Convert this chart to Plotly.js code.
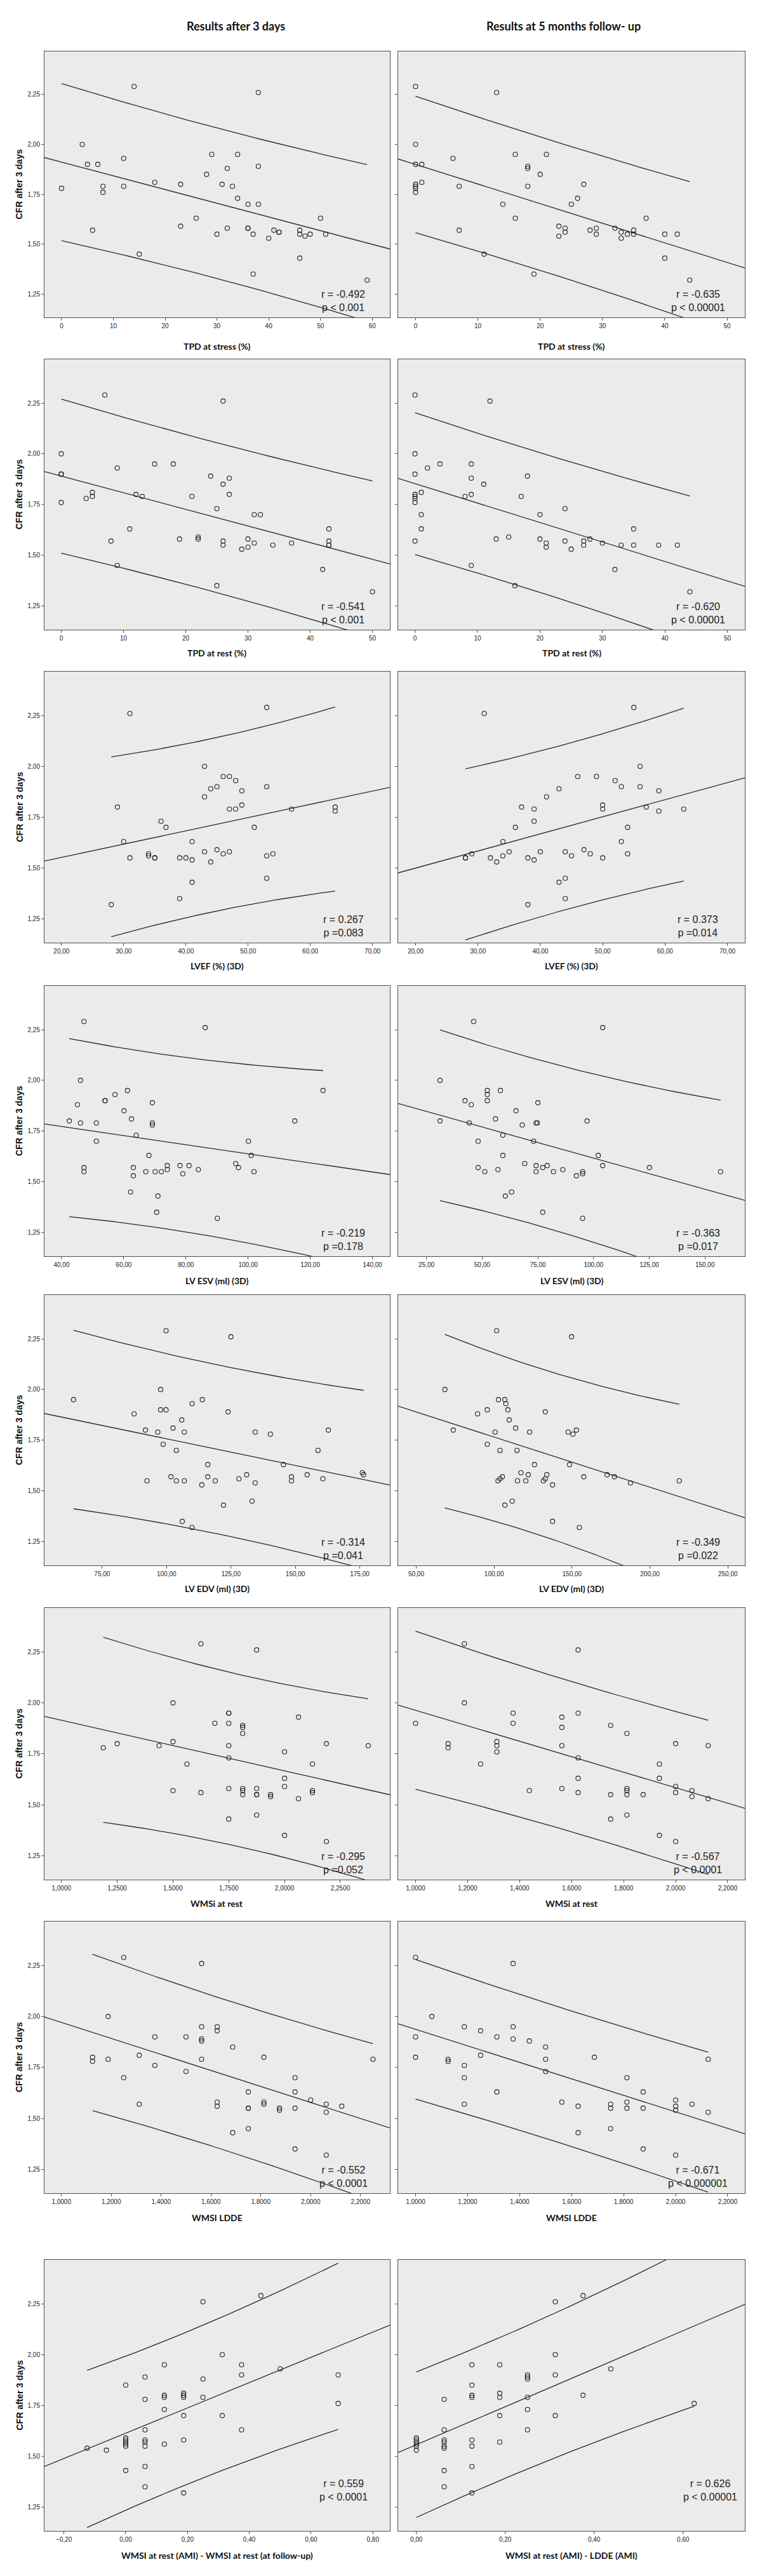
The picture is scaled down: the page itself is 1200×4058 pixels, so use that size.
<!DOCTYPE html>
<html>
<head>
<meta charset="utf-8">
<script src="https://cdn.plot.ly/plotly-3.0.1.min.js"></script>
<style>
  html, body { margin: 0; padding: 0; background: #fff; }
  #chart { width: 1200px; height: 4058px; }
</style>
</head>
<body>
<div id="chart"></div>
<script>
// CFR after 3 days against each parameter
// left column = values after 3 days, right column = values at 5 months follow-up

const tpdStress3d = [14,38,4,29,34,12,5,7,38,32,28,18,23,31,0,8,12,33,8,34,36,38,26,50,6,23,32,36,36,30,37,41,42,42,40,46,46,47,48,51,15,46,37,59];
const tpdStress3dCfr = [2.29,2.26,2.00,1.95,1.95,1.93,1.90,1.90,1.89,1.88,1.85,1.81,1.80,1.80,1.78,1.79,1.79,1.79,1.76,1.73,1.70,1.70,1.63,1.63,1.57,1.59,1.58,1.58,1.58,1.55,1.55,1.57,1.56,1.56,1.53,1.57,1.55,1.54,1.55,1.55,1.45,1.43,1.35,1.32];

const tpdStress5m = [0,13,0,16,21,6,0,1,18,18,20,1,0,0,0,0,7,18,27,26,14,25,16,37,7,23,24,24,28,29,29,32,33,33,34,35,35,40,42,23,11,40,19,44];
const tpdStress5mCfr = [2.29,2.26,2.00,1.95,1.95,1.93,1.90,1.90,1.89,1.88,1.85,1.81,1.80,1.79,1.78,1.76,1.79,1.79,1.80,1.73,1.70,1.70,1.63,1.63,1.57,1.59,1.58,1.56,1.57,1.58,1.55,1.58,1.56,1.53,1.55,1.57,1.55,1.55,1.55,1.54,1.45,1.43,1.35,1.32];

const tpdRest3d = [7,26,0,15,18,9,0,0,24,27,26,5,5,4,12,13,21,27,0,25,31,32,11,43,8,19,22,22,26,26,30,30,29,31,34,37,43,43,43,9,42,25,50];
const tpdRest3dCfr = [2.29,2.26,2.00,1.95,1.95,1.93,1.90,1.90,1.89,1.88,1.85,1.81,1.79,1.78,1.80,1.79,1.79,1.80,1.76,1.73,1.70,1.70,1.63,1.63,1.57,1.58,1.59,1.58,1.57,1.55,1.58,1.54,1.53,1.56,1.55,1.56,1.57,1.55,1.55,1.45,1.43,1.35,1.32];

const tpdRest5m = [0,12,0,4,9,2,0,9,18,11,1,0,0,0,0,8,9,17,24,1,20,1,35,0,13,15,20,21,21,24,25,27,27,28,30,33,35,39,42,9,32,16,44];
const tpdRest5mCfr = [2.29,2.26,2.00,1.95,1.95,1.93,1.90,1.88,1.89,1.85,1.81,1.80,1.79,1.78,1.76,1.79,1.80,1.79,1.73,1.70,1.70,1.63,1.63,1.57,1.58,1.59,1.58,1.56,1.54,1.57,1.53,1.57,1.55,1.58,1.56,1.55,1.55,1.55,1.55,1.45,1.43,1.35,1.32];

const lvef3d = [53,31,43,46,47,48,45,53,44,49,43,49,29,47,48,57,64,64,36,36.8,51,30,41,31,34,34,35,35,39,40,41,43,44,45,46,47,53,54,53,41,39,28];
const lvef3dCfr = [2.29,2.26,2.00,1.95,1.95,1.93,1.90,1.90,1.89,1.88,1.85,1.81,1.80,1.79,1.79,1.79,1.80,1.78,1.73,1.70,1.70,1.63,1.63,1.55,1.57,1.56,1.55,1.55,1.55,1.55,1.54,1.58,1.53,1.59,1.57,1.58,1.56,1.57,1.45,1.43,1.35,1.32];

const lvef5m = [31,55,56,46,49,52,53,56,43,59,41,37,39,50,50,57,59,63,39,36,54,34,53,28,28,29,32,33,34,35,38,39,40,44,45,47,48,50,54,43,44,44,38];
const lvef5mCfr = [2.26,2.29,2.00,1.95,1.95,1.93,1.90,1.90,1.89,1.88,1.85,1.80,1.79,1.81,1.79,1.80,1.78,1.79,1.73,1.70,1.70,1.63,1.63,1.55,1.55,1.57,1.55,1.53,1.56,1.58,1.55,1.54,1.58,1.58,1.56,1.59,1.57,1.55,1.57,1.43,1.45,1.35,1.32];

const esv3d = [47.2,86.2,46.1,61.2,124.1,57.2,54.0,54.0,45.1,69.2,60.1,62.5,42.5,46.1,51.2,69.2,69.2,115.0,64.0,51.2,100.1,68.1,101.0,47.2,47.2,63.1,63.1,67.1,70.1,72.1,74.0,74.0,78.1,79.0,81.0,84.0,96.0,96.9,101.9,62.2,71.0,70.6,90.1];
const esv3dCfr = [2.29,2.26,2.00,1.95,1.95,1.93,1.90,1.90,1.88,1.89,1.85,1.81,1.80,1.79,1.79,1.79,1.78,1.80,1.73,1.70,1.70,1.63,1.63,1.57,1.55,1.57,1.53,1.55,1.55,1.55,1.56,1.58,1.58,1.54,1.58,1.56,1.59,1.57,1.55,1.45,1.43,1.35,1.32];

const esv5m = [46.2,104.1,31.1,58.2,52.3,52.3,52.3,42.3,45.1,75.0,65.2,56.0,31.1,44.2,74.2,74.8,68.0,97.1,59.3,48.2,73.1,59.3,102.1,48.2,51.2,57.1,69.1,74.2,74.2,77.2,79.2,82.0,86.2,92.3,95.1,95.1,104.1,125.1,157.0,63.2,60.4,77.2,95.1];
const esv5mCfr = [2.29,2.26,2.00,1.95,1.95,1.93,1.90,1.90,1.88,1.89,1.85,1.81,1.80,1.79,1.79,1.79,1.78,1.80,1.73,1.70,1.70,1.63,1.63,1.57,1.55,1.56,1.59,1.58,1.55,1.57,1.58,1.55,1.56,1.53,1.55,1.54,1.58,1.57,1.55,1.45,1.43,1.35,1.32];

const edv3d = [99.8,125.0,97.7,63.9,113.9,109.9,97.7,99.8,123.9,87.4,105.9,102.5,91.8,96.6,106.9,134.4,140.3,162.8,98.7,103.8,158.8,116.0,145.4,176.0,176.5,101.7,92.4,103.8,106.9,113.7,116.0,118.9,128.1,131.1,134.4,148.5,148.5,154.6,160.7,122.1,133.2,106.1,109.9];
const edv3dCfr = [2.29,2.26,2.00,1.95,1.95,1.93,1.90,1.90,1.89,1.88,1.85,1.81,1.80,1.79,1.79,1.79,1.78,1.80,1.73,1.70,1.70,1.63,1.63,1.59,1.58,1.57,1.55,1.55,1.55,1.53,1.57,1.55,1.56,1.58,1.54,1.57,1.55,1.58,1.56,1.43,1.45,1.35,1.32];

const edv5m = [101.6,149.7,68.4,102.8,106.9,107.5,95.6,108.8,89.4,132.8,109.7,113.8,73.8,152.8,100.6,122.8,147.5,150.6,95.6,103.8,114.7,125.9,148.4,117.2,121.9,133.8,172.5,177.2,157.5,105.3,103.8,102.5,115.0,120.3,131.6,132.8,137.5,187.5,218.8,106.9,111.6,137.5,154.7];
const edv5mCfr = [2.29,2.26,2.00,1.95,1.95,1.93,1.90,1.90,1.88,1.89,1.85,1.81,1.80,1.80,1.79,1.79,1.79,1.78,1.73,1.70,1.70,1.63,1.63,1.59,1.58,1.58,1.58,1.57,1.57,1.57,1.56,1.55,1.55,1.55,1.55,1.56,1.53,1.54,1.55,1.43,1.45,1.35,1.32];

const wmsiRest3d = [1.625,1.875,1.5,1.75,1.75,2.0625,1.6875,1.75,1.8125,1.8125,1.8125,1.5,1.1875,1.25,1.4375,1.75,2.1875,2.375,2.0,1.75,1.5625,2.125,2.0,2.0,1.5,1.625,1.75,1.8125,1.8125,1.8125,1.875,1.875,1.875,1.9375,1.9375,2.0625,2.125,2.125,1.75,1.875,2.0,2.1875];
const wmsiRest3dCfr = [2.29,2.26,2.00,1.95,1.95,1.93,1.90,1.90,1.89,1.88,1.85,1.81,1.78,1.80,1.79,1.79,1.80,1.79,1.76,1.73,1.70,1.70,1.63,1.59,1.57,1.56,1.58,1.58,1.57,1.55,1.58,1.55,1.55,1.55,1.54,1.53,1.57,1.56,1.43,1.45,1.35,1.32];

const wmsiRest5m = [1.1875,1.625,1.1875,1.375,1.625,1.5625,1.0,1.375,1.75,1.5625,1.8125,1.3125,1.125,1.125,1.3125,1.3125,1.5625,2.0,2.125,1.625,1.25,1.9375,1.625,1.9375,1.4375,1.5625,1.625,1.75,1.8125,1.8125,1.8125,1.875,2.0,2.0,2.0625,2.0625,2.125,1.75,1.8125,1.9375,2.0];
const wmsiRest5mCfr = [2.29,2.26,2.00,1.95,1.95,1.93,1.90,1.90,1.89,1.88,1.85,1.81,1.80,1.78,1.79,1.76,1.79,1.80,1.79,1.73,1.70,1.70,1.63,1.63,1.57,1.58,1.56,1.55,1.58,1.57,1.55,1.55,1.59,1.56,1.57,1.54,1.53,1.43,1.45,1.35,1.32];

const wmsiLdde3d = [1.25,1.5625,1.1875,1.5625,1.625,1.625,1.375,1.5,1.5625,1.5625,1.6875,1.3125,1.125,1.125,1.1875,1.5625,1.8125,2.25,1.375,1.5,1.25,1.9375,1.75,1.9375,1.3125,1.625,1.625,1.75,1.75,1.8125,1.8125,1.875,1.875,1.9375,2.0,2.0625,2.0625,2.125,1.6875,1.75,1.9375,2.0625];
const wmsiLdde3dCfr = [2.29,2.26,2.00,1.95,1.95,1.93,1.90,1.90,1.89,1.88,1.85,1.81,1.80,1.78,1.79,1.79,1.80,1.79,1.76,1.73,1.70,1.70,1.63,1.63,1.57,1.58,1.56,1.55,1.55,1.58,1.57,1.55,1.54,1.55,1.59,1.57,1.53,1.56,1.43,1.45,1.35,1.32];

const wmsiLdde5m = [1.0,1.375,1.0625,1.1875,1.375,1.25,1.0,1.3125,1.375,1.4375,1.5,1.25,1.0,1.125,1.125,1.5,1.6875,2.125,1.1875,1.5,1.1875,1.8125,1.3125,1.875,1.1875,1.5625,1.625,1.75,1.75,1.8125,1.8125,1.875,2.0,2.0,2.0,2.0625,2.125,1.625,1.75,1.875,2.0];
const wmsiLdde5mCfr = [2.29,2.26,2.00,1.95,1.95,1.93,1.90,1.90,1.89,1.88,1.85,1.81,1.80,1.79,1.78,1.79,1.80,1.79,1.76,1.73,1.70,1.70,1.63,1.63,1.57,1.58,1.56,1.57,1.55,1.58,1.55,1.55,1.59,1.56,1.54,1.57,1.53,1.43,1.45,1.35,1.32];

const wmsiDiffFollow = [0.4375,0.25,0.3125,0.125,0.375,0.5,0.375,0.6875,0.0625,0.25,0,0.1875,0.125,0.125,0.1875,0.1875,0.0625,0.25,0.6875,0.125,0.1875,0.3125,0.0625,0.375,-0.125,-0.0625,0,0,0,0,0,0.0625,0.0625,0.0625,0.125,0.1875,0,0.0625,0.0625,0.1875];
const wmsiDiffFollowCfr = [2.29,2.26,2.00,1.95,1.95,1.93,1.90,1.90,1.89,1.88,1.85,1.81,1.80,1.79,1.80,1.79,1.78,1.79,1.76,1.73,1.70,1.70,1.63,1.63,1.54,1.53,1.59,1.58,1.57,1.56,1.55,1.58,1.57,1.55,1.56,1.58,1.43,1.45,1.35,1.32];

const wmsiDiffLdde = [0.375,0.3125,0.3125,0.125,0.1875,0.4375,0.25,0.3125,0.25,0.25,0.125,0.1875,0.125,0.125,0.1875,0.25,0.375,0.0625,0.625,0.25,0.1875,0.3125,0.0625,0.25,0,0,0,0,0,0,0.0625,0.0625,0.0625,0.0625,0.125,0.125,0.1875,0.0625,0.125,0.0625,0.125];
const wmsiDiffLddeCfr = [2.29,2.26,2.00,1.95,1.95,1.93,1.90,1.90,1.89,1.88,1.85,1.81,1.80,1.79,1.79,1.79,1.80,1.78,1.76,1.73,1.70,1.70,1.63,1.63,1.59,1.58,1.57,1.56,1.55,1.53,1.58,1.57,1.55,1.54,1.58,1.55,1.57,1.43,1.45,1.35,1.32];

const xTitles = ['TPD at stress (%)', 'TPD at rest (%)', 'LVEF (%) (3D)', 'LV ESV (ml) (3D)', 'LV EDV (ml) (3D)',
    'WMSi at rest', 'WMSI LDDE', ['WMSI at rest (AMI) - WMSI at rest (at follow-up)', 'WMSI at rest (AMI) - LDDE (AMI)']];
const rValues = ['-0.492', '-0.635', '-0.541', '-0.620', '0.267', '0.373', '-0.219', '-0.363',
    '-0.314', '-0.349', '-0.295', '-0.567', '-0.552', '-0.671', '0.559', '0.626'];
const pValues = ['< 0.001', '< 0.00001', '< 0.001', '< 0.00001', '=0.083', '=0.014', '=0.178', '=0.017',
    '=0.041', '=0.022', '=0.052', '< 0.0001', '< 0.0001', '< 0.000001', '< 0.0001', '< 0.00001'];

// panel order: row by row, left then right
const panels = [
    { x: tpdStress3d, y: tpdStress3dCfr, range: [-3.3, 63.4], tick0: 0, dtick: 10, fmt: 'd' },
    { x: tpdStress5m, y: tpdStress5mCfr, range: [-2.8, 52.85], tick0: 0, dtick: 10, fmt: 'd' },
    { x: tpdRest3d, y: tpdRest3dCfr, range: [-2.7, 52.8], tick0: 0, dtick: 10, fmt: 'd' },
    { x: tpdRest5m, y: tpdRest5mCfr, range: [-2.7, 52.8], tick0: 0, dtick: 10, fmt: 'd' },
    { x: lvef3d, y: lvef3dCfr, range: [17.26, 72.8], tick0: 20, dtick: 10, fmt: '.2f' },
    { x: lvef5m, y: lvef5mCfr, range: [17.2, 72.8], tick0: 20, dtick: 10, fmt: '.2f' },
    { x: esv3d, y: esv3dCfr, range: [34.5, 145.6], tick0: 40, dtick: 20, fmt: '.2f' },
    { x: esv5m, y: esv5mCfr, range: [12.3, 167.9], tick0: 25, dtick: 25, fmt: '.2f' },
    { x: edv3d, y: edv3dCfr, range: [52.6, 186.7], tick0: 75, dtick: 25, fmt: '.2f' },
    { x: edv5m, y: edv5mCfr, range: [38.4, 260.9], tick0: 50, dtick: 50, fmt: '.2f' },
    { x: wmsiRest3d, y: wmsiRest3dCfr, range: [0.924, 2.472], tick0: 1, dtick: 0.25, fmt: '.4f' },
    { x: wmsiRest5m, y: wmsiRest5mCfr, range: [0.933, 2.266], tick0: 1, dtick: 0.2, fmt: '.4f' },
    { x: wmsiLdde3d, y: wmsiLdde3dCfr, range: [0.932, 2.318], tick0: 1, dtick: 0.2, fmt: '.4f' },
    { x: wmsiLdde5m, y: wmsiLdde5mCfr, range: [0.933, 2.266], tick0: 1, dtick: 0.2, fmt: '.4f' },
    { x: wmsiDiffFollow, y: wmsiDiffFollowCfr, range: [-0.263, 0.855], tick0: -0.2, dtick: 0.2, fmt: '.2f' },
    { x: wmsiDiffLdde, y: wmsiDiffLddeCfr, range: [-0.041, 0.739], tick0: 0, dtick: 0.2, fmt: '.2f' }
];

// page geometry in pixels
const W = 1200, H = 4058;
const rowTop = [81, 566, 1058, 1553, 2040, 2533, 3027, 3560];
const rowBottom = [500, 992, 1485, 1979, 2466, 2961, 3455, 3987];
const colLeft = [70, 627];
const colRight = [614, 1173];
const titleY = [545, 1029, 1522, 2018, 2502, 2998, 3493, 4025];

const tickFont = { family: 'Liberation Sans, Arial, sans-serif', size: 10, color: '#222' };
const lineStyle = { color: '#2a2a2a', width: 1.3 };

// 97.5% t quantile, good enough for df around 40
function tCrit(df) {
    return 1.96 + 2.37 / df + 2.8 / (df * df);
}

// least squares fit + 95% individual prediction band (as SPSS draws it)
function regression(xs, ys, range) {
    const n = xs.length;
    const mx = xs.reduce((a, b) => a + b, 0) / n;
    const my = ys.reduce((a, b) => a + b, 0) / n;
    let sxx = 0, sxy = 0;
    for (let i = 0; i < n; i++) {
        sxx += (xs[i] - mx) ** 2;
        sxy += (xs[i] - mx) * (ys[i] - my);
    }
    const b = sxy / sxx;
    const a = my - b * mx;
    let sse = 0;
    for (let i = 0; i < n; i++) sse += (ys[i] - a - b * xs[i]) ** 2;
    const s = Math.sqrt(sse / (n - 2));
    const t = tCrit(n - 2);

    const lo = Math.min(...xs), hi = Math.max(...xs);
    const bx = [], up = [], dn = [];
    for (let k = 0; k <= 60; k++) {
        const x = lo + (hi - lo) * k / 60;
        const half = t * s * Math.sqrt(1 + 1 / n + (x - mx) ** 2 / sxx);
        bx.push(x);
        up.push(a + b * x + half);
        dn.push(a + b * x - half);
    }
    return {
        fitX: range, fitY: range.map(x => a + b * x),
        bandX: bx, upper: up, lower: dn
    };
}

const traces = [];
const layout = {
    width: W, height: H,
    margin: { l: 0, r: 0, t: 0, b: 0 },
    paper_bgcolor: '#fff',
    plot_bgcolor: '#ebebeb',
    showlegend: false,
    separators: ',.',
    annotations: []
};

panels.forEach((p, i) => {
    const row = Math.floor(i / 2), col = i % 2;
    const sfx = i === 0 ? '' : String(i + 1);
    const xa = 'x' + sfx, ya = 'y' + sfx;

    layout['xaxis' + sfx] = {
        domain: [colLeft[col] / W, colRight[col] / W],
        range: p.range, anchor: ya,
        tick0: p.tick0, dtick: p.dtick, tickformat: p.fmt,
        showgrid: false, zeroline: false,
        showline: true, mirror: true, linecolor: '#505050', linewidth: 1,
        ticks: 'outside', ticklen: 4, tickcolor: '#505050',
        tickfont: tickFont
    };
    layout['yaxis' + sfx] = {
        domain: [1 - rowBottom[row] / H, 1 - rowTop[row] / H],
        range: [1.133, 2.466], anchor: xa,
        tick0: 1.25, dtick: 0.25, tickformat: '.2f',
        showgrid: false, zeroline: false,
        showline: true, mirror: true, linecolor: '#505050', linewidth: 1,
        ticks: 'outside', ticklen: 4, tickcolor: '#505050',
        showticklabels: col === 0,
        tickfont: tickFont
    };

    const fit = regression(p.x, p.y, p.range);
    traces.push({ x: fit.fitX, y: fit.fitY, xaxis: xa, yaxis: ya, mode: 'lines', line: lineStyle, hoverinfo: 'skip' });
    traces.push({ x: fit.bandX, y: fit.upper, xaxis: xa, yaxis: ya, mode: 'lines', line: lineStyle, hoverinfo: 'skip' });
    traces.push({ x: fit.bandX, y: fit.lower, xaxis: xa, yaxis: ya, mode: 'lines', line: lineStyle, hoverinfo: 'skip' });
    traces.push({
        x: p.x, y: p.y, xaxis: xa, yaxis: ya, mode: 'markers',
        marker: { symbol: 'circle-open', size: 7, color: '#222', line: { width: 1.1, color: '#222' } }
    });

    // r / p text inside the lower right corner
    layout.annotations.push({
        xref: xa + ' domain', yref: ya + ' domain',
        x: (row === 7 && col === 1) ? 0.9 : 0.865,
        y: row === 7 ? 0.1 : 0.012,
        xanchor: 'center', yanchor: 'bottom', align: 'center', showarrow: false,
        text: 'r = ' + rValues[i] + '<br>p ' + pValues[i].replace('<', '&lt;'),
        font: { family: 'Liberation Sans, Arial, sans-serif', size: 16, color: '#222' }
    });

    // x axis title under the panel
    const t = Array.isArray(xTitles[row]) ? xTitles[row][col] : xTitles[row];
    layout.annotations.push({
        xref: 'paper', yref: 'paper',
        x: (colLeft[col] + colRight[col]) / 2 / W, y: 1 - titleY[row] / H,
        xanchor: 'center', yanchor: 'middle', showarrow: false,
        text: t,
        font: { family: 'Lato, Open Sans, sans-serif', size: 14, weight: 700, color: '#111' }
    });

    // y title on the left column only
    if (col === 0) {
        layout.annotations.push({
            xref: 'paper', yref: 'paper',
            x: 30 / W, y: 1 - (rowTop[row] + rowBottom[row]) / 2 / H,
            xanchor: 'center', yanchor: 'middle', textangle: -90, showarrow: false,
            text: 'CFR after 3 days',
            font: { family: 'Liberation Sans, Arial, sans-serif', size: 14, weight: 700, color: '#111' }
        });
    }
});

// column headers
layout.annotations.push({
    xref: 'paper', yref: 'paper', x: 371 / W, y: 1 - 41 / H,
    xanchor: 'center', yanchor: 'middle', showarrow: false,
    text: 'Results after 3 days',
    font: { family: 'Lato, Open Sans, sans-serif', size: 18, weight: 700, color: '#111' }
});
layout.annotations.push({
    xref: 'paper', yref: 'paper', x: 887 / W, y: 1 - 41 / H,
    xanchor: 'center', yanchor: 'middle', showarrow: false,
    text: 'Results at 5 months follow- up',
    font: { family: 'Lato, Open Sans, sans-serif', size: 18, weight: 700, color: '#111' }
});

Plotly.newPlot('chart', traces, layout, { displayModeBar: false, staticPlot: true });
</script>
</body>
</html>
